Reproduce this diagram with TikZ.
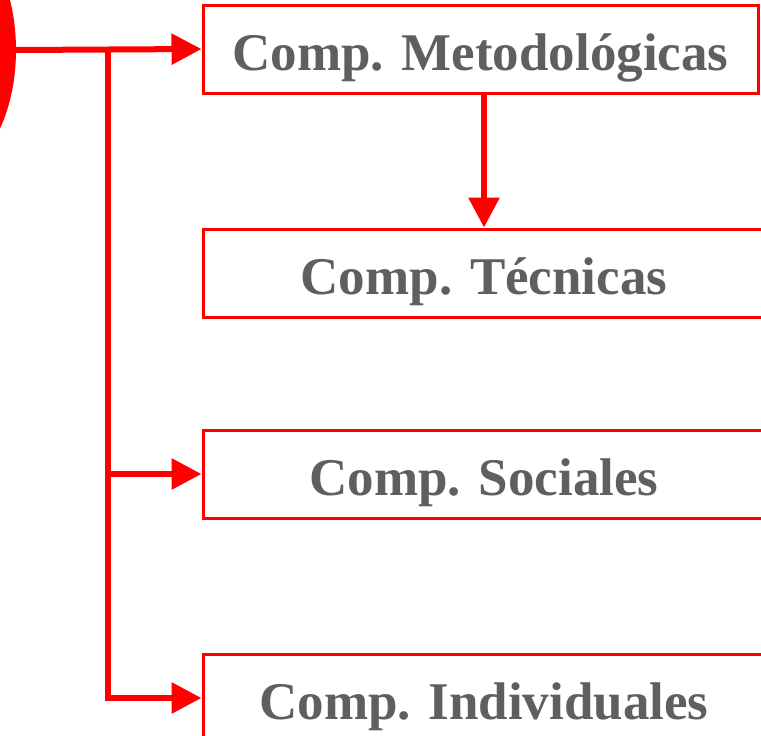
\documentclass[tikz,border=0pt]{standalone}
\usepackage{fontspec}
\setmainfont{Liberation Serif}
\usetikzlibrary{arrows.meta,positioning,shapes.geometric}
\definecolor{compred}{RGB}{255,0,0}
\definecolor{compgray}{RGB}{95,95,95}
\tikzset{
  compbox/.style={draw=compred,line width=3pt,minimum height=88pt,
    text=compgray,font=\fontsize{53}{60}\selectfont\bfseries,inner sep=0pt,
    text height=48pt,text depth=6pt},
  conn/.style={draw=compred,line width=6pt,-{Triangle[length=30pt,width=30pt]}},
  trunk/.style={draw=compred,line width=6pt}
}
\begin{document}
\begin{tikzpicture}[x=1pt,y=-1pt]
    \useasboundingbox (0,0) rectangle (761,736);
    \clip (0,0) rectangle (761,736);
    \node[ellipse,fill=compred,minimum width=152pt,minimum height=256pt] (comp) at (-60,50) {};
    \node[compbox,minimum width=555pt] (met) at (480.5,49) {Comp. Metodológicas};
    \node[compbox,minimum width=562pt] (tec) at (484,273) {Comp. Técnicas};
    \node[compbox,minimum width=562pt] (soc) at (484,474) {Comp. Sociales};
    \node[compbox,minimum width=562pt] (ind) at (484,698) {Comp. Individuales};
    \coordinate (j) at (108,49);
    \draw[conn] (comp.east) -- (met.west);
    \draw[trunk] (j) -- (j |- soc.west);
    \draw[conn] (j |- soc.west) -- (soc.west);
    \draw[conn] (j |- soc.west) |- (ind.west);
    \draw[conn] (met.south -| 484,0) -- (tec.north);
\end{tikzpicture}
\end{document}
